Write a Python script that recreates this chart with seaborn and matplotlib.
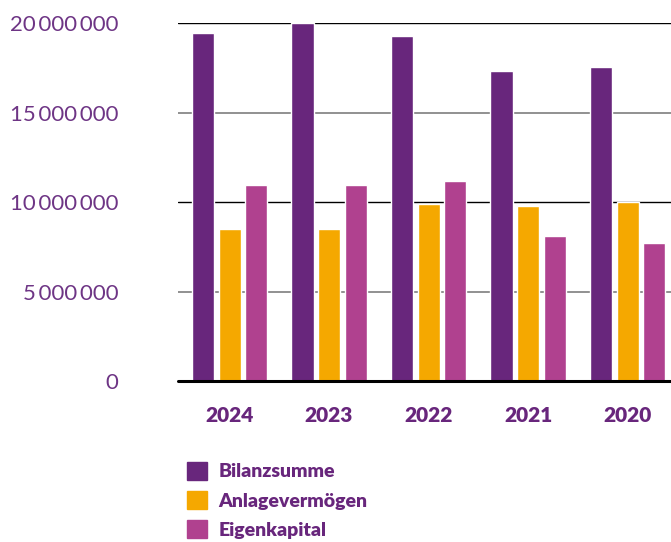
import matplotlib
matplotlib.use("Agg")
import matplotlib.pyplot as plt
import matplotlib.patches as mpatches
from matplotlib.ticker import FuncFormatter
import pandas as pd
import seaborn as sns

years = ["2024", "2023", "2022", "2021", "2020"]
series = ["Bilanzsumme", "Anlagevermögen", "Eigenkapital"]
bilanzsumme = [19450000, 20000000, 19270000, 17320000, 17540000]
anlagevermoegen = [8490000, 8490000, 9900000, 9780000, 10000000]
eigenkapital = [10950000, 10950000, 11170000, 8100000, 7710000]
colors = ["#68267c", "#f5a800", "#b0418f"]
text_purple = "#68267c"

df = pd.DataFrame({
    "Jahr": years * 3,
    "Reihe": [s for s in series for _ in years],
    "Wert": bilanzsumme + anlagevermoegen + eigenkapital,
})

sns.set_style("white")
plt.rcParams["font.family"] = ["Lato", "DejaVu Sans"]

fig = plt.figure(figsize=(6.71, 5.42), dpi=100)
ax = fig.add_axes([178 / 671, 161 / 542, 493 / 671, 358 / 542])

sns.barplot(data=df, x="Jahr", y="Wert", hue="Reihe", order=years,
            hue_order=series, palette=colors, width=0.8, gap=0.17,
            saturation=1, ax=ax, legend=False)

ax.set_ylim(0, 20000000)
ax.set_xlim(-0.518, 4.437)
ax.set_yticks([0, 5000000, 10000000, 15000000, 20000000])
ax.yaxis.set_major_formatter(FuncFormatter(lambda v, p: f"{v:,.0f}".replace(",", "\u2009")))

# grid lines
for v, c, lw in [(20000000, "black", 1.0), (15000000, "#888888", 1.3),
                 (10000000, "black", 1.0), (5000000, "#888888", 1.3)]:
    ax.axhline(v, color=c, lw=lw, zorder=0)
ax.axhline(0, color="black", lw=2.2, zorder=3, clip_on=False)

for s in ax.spines.values():
    s.set_visible(False)

ax.set_xlabel("")
ax.set_ylabel("")
ax.tick_params(axis="y", length=0, pad=43, labelsize=16, labelcolor="#6e3585")
ax.tick_params(axis="x", length=0, pad=18, labelsize=15, labelcolor=text_purple)
for t in ax.get_yticklabels():
    t.set_fontweight("normal")
for t in ax.get_xticklabels():
    t.set_fontweight("heavy")

handles = [mpatches.Patch(color=c, label=s) for c, s in zip(colors, series)]
leg = fig.legend(handles=handles, loc="upper left", bbox_to_anchor=(169 / 671, 1 - 444 / 542),
                 frameon=False, handlelength=1.05, handleheight=1.05, handletextpad=0.6,
                 labelspacing=0.55, prop={"size": 14, "weight": "heavy"})
for t in leg.get_texts():
    t.set_color(text_purple)

fig.savefig("out.png", dpi=100)
